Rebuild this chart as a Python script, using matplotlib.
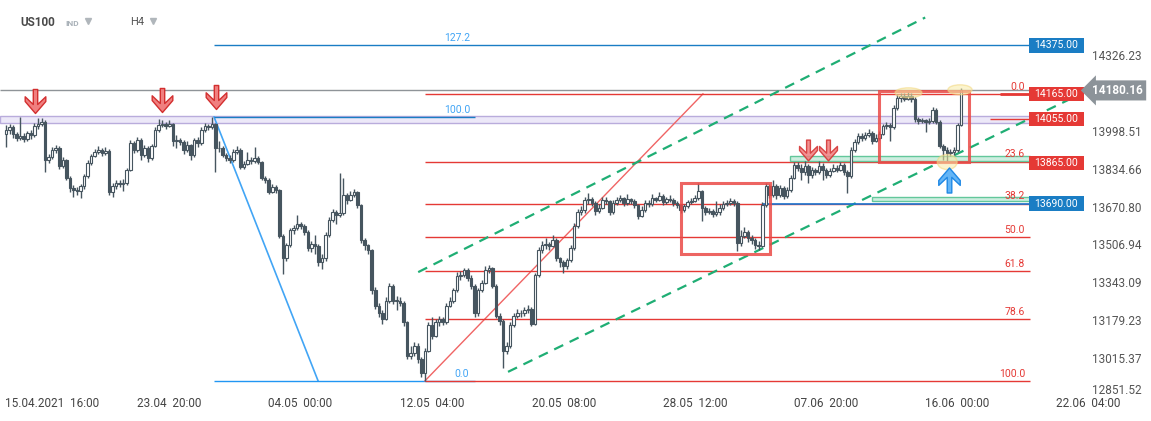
import numpy as np
import matplotlib
matplotlib.use('Agg')
from matplotlib import pyplot as plt
from matplotlib.patches import Rectangle, Ellipse
from matplotlib.path import Path

plt.rcParams['font.family'] = ['Roboto', 'DejaVu Sans']

# US100, H4 candles (15.04.2021 -> 17.06.2021)
first_open = 13990
closes = [
    14009, 14022, 13992, 13974, 13983, 13970, 13996, 13987, 14026, 14035,
    14044, 13879, 13892, 13922, 13931, 13853, 13879, 13800, 13757, 13748,
    13744, 13766, 13809, 13866, 13896, 13913, 13922, 13909, 13918, 13740,
    13766, 13779, 13774, 13779, 13835, 13953, 13922, 13966, 13900, 13931,
    13887, 13940, 14009, 14031, 14035, 14026, 14035, 13961, 13966, 13957,
    13922, 13944, 13900, 13966, 13953, 14009, 14026, 14022, 14035, 13931,
    13931, 13900, 13887, 13879, 13913, 13922, 13848, 13861, 13879, 13874,
    13887, 13870, 13800, 13792, 13740, 13761, 13748, 13548, 13453, 13509,
    13574, 13583, 13600, 13592, 13566, 13496, 13514, 13505, 13435, 13453,
    13553, 13618, 13653, 13640, 13648, 13726, 13705, 13726, 13740, 13683,
    13531, 13509, 13487, 13314, 13248, 13218, 13192, 13270, 13335, 13270,
    13270, 13261, 13175, 13031, 13044, 13075, 13018, 12957, 13053, 13162,
    13118, 13175, 13192, 13175, 13248, 13270, 13314, 13375, 13379, 13401,
    13366, 13335, 13214, 13314, 13348, 13401, 13409, 13335, 13205, 13183,
    13053, 13075, 13162, 13205, 13218, 13214, 13227, 13235, 13170, 13379,
    13487, 13509, 13514, 13505, 13531, 13453, 13435, 13418, 13444, 13496,
    13592, 13653, 13661, 13705, 13709, 13692, 13657, 13670, 13705, 13700,
    13653, 13692, 13705, 13713, 13692, 13709, 13700, 13683, 13635, 13661,
    13692, 13687, 13713, 13705, 13722, 13696, 13709, 13705, 13692, 13683,
    13661, 13679, 13696, 13700, 13713, 13744, 13670, 13653, 13657, 13644,
    13653, 13670, 13687, 13692, 13700, 13692, 13518, 13548, 13566, 13540,
    13531, 13509, 13505, 13683, 13766, 13726, 13766, 13726, 13757, 13722,
    13748, 13800, 13857, 13844, 13826, 13853, 13813, 13835, 13826, 13853,
    13835, 13813, 13831, 13844, 13835, 13857, 13826, 13809, 13922, 13957,
    13983, 13974, 13987, 13996, 13961, 13974, 13992, 14026, 14031, 14022,
    14105, 14148, 14157, 14144, 14157, 14144, 14057, 14048, 14052, 14044,
    14048, 14096, 14044, 13940, 13922, 13909, 13913, 13922, 14031, 14180,
]
highs = [
    14030, 14035, 14030, 14000, 14065, 13995, 14005, 14010, 14040, 14060,
    14062, 14050, 13905, 13935, 13945, 13940, 13890, 13885, 13810, 13770,
    13760, 13775, 13820, 13880, 13905, 13925, 13940, 13930, 13935, 13925,
    13780, 13790, 13790, 13795, 13845, 13965, 13960, 13980, 13975, 13945,
    13940, 13950, 14020, 14055, 14050, 14045, 14052, 14040, 13985, 13975,
    13965, 13960, 13950, 13975, 13980, 14020, 14040, 14035, 14065, 14040,
    13960, 13940, 13910, 13900, 13925, 13940, 13930, 13875, 13915, 13890,
    13935, 13895, 13875, 13810, 13800, 13775, 13770, 13755, 13560, 13520,
    13585, 13595, 13640, 13610, 13600, 13575, 13530, 13555, 13515, 13470,
    13565, 13630, 13665, 13660, 13822, 13800, 13735, 13745, 13755, 13745,
    13690, 13540, 13515, 13495, 13330, 13260, 13230, 13285, 13345, 13340,
    13290, 13285, 13270, 13180, 13075, 13090, 13085, 13025, 13065, 13175,
    13200, 13190, 13205, 13200, 13260, 13285, 13325, 13395, 13400, 13410,
    13410, 13380, 13340, 13325, 13360, 13420, 13425, 13415, 13340, 13215,
    13190, 13090, 13175, 13215, 13235, 13230, 13240, 13250, 13240, 13390,
    13500, 13530, 13540, 13525, 13555, 13540, 13460, 13445, 13455, 13510,
    13605, 13665, 13680, 13720, 13735, 13720, 13700, 13690, 13720, 13720,
    13705, 13705, 13720, 13725, 13720, 13730, 13715, 13710, 13690, 13680,
    13705, 13705, 13730, 13720, 13740, 13730, 13720, 13725, 13715, 13700,
    13690, 13690, 13705, 13715, 13725, 13779, 13750, 13680, 13670, 13665,
    13700, 13690, 13700, 13705, 13712, 13710, 13700, 13575, 13590, 13575,
    13555, 13540, 13530, 13695, 13780, 13775, 13790, 13775, 13770, 13765,
    13760, 13812, 13870, 13870, 13860, 13875, 13860, 13850, 13845, 13875,
    13865, 13845, 13845, 13860, 13855, 13870, 13865, 13835, 13935, 13970,
    13995, 13995, 14000, 14015, 14005, 13990, 14005, 14035, 14045, 14040,
    14115, 14165, 14170, 14168, 14172, 14168, 14150, 14065, 14062, 14058,
    14060, 14110, 14105, 14050, 13950, 13935, 13925, 13935, 14040, 14192,
]
lows = [
    13935, 13990, 13975, 13960, 13965, 13955, 13960, 13970, 13980, 14015,
    14025, 13826, 13865, 13885, 13910, 13840, 13845, 13790, 13740, 13718,
    13725, 13715, 13755, 13800, 13855, 13890, 13905, 13895, 13900, 13725,
    13720, 13755, 13760, 13745, 13770, 13830, 13910, 13915, 13880, 13890,
    13870, 13880, 13935, 14000, 14020, 14015, 14020, 13940, 13930, 13945,
    13905, 13915, 13880, 13890, 13935, 13945, 14000, 14010, 14015, 13826,
    13915, 13890, 13875, 13865, 13870, 13905, 13840, 13840, 13855, 13860,
    13865, 13860, 13790, 13780, 13730, 13735, 13735, 13540, 13387, 13440,
    13500, 13560, 13575, 13580, 13555, 13485, 13480, 13470, 13420, 13405,
    13440, 13545, 13610, 13600, 13630, 13640, 13690, 13700, 13720, 13670,
    13520, 13490, 13470, 13300, 13235, 13200, 13170, 13185, 13260, 13255,
    13230, 13245, 13160, 13015, 13015, 13030, 13000, 12940, 12922, 13045,
    13105, 13110, 13160, 13165, 13170, 13240, 13260, 13305, 13360, 13370,
    13355, 13320, 13200, 13205, 13305, 13340, 13390, 13325, 13195, 13165,
    12979, 13040, 13065, 13155, 13195, 13200, 13205, 13215, 13160, 13165,
    13370, 13475, 13495, 13490, 13500, 13440, 13415, 13390, 13405, 13435,
    13490, 13585, 13640, 13650, 13690, 13680, 13640, 13650, 13665, 13690,
    13640, 13645, 13685, 13695, 13680, 13685, 13690, 13670, 13625, 13630,
    13655, 13675, 13680, 13695, 13700, 13685, 13690, 13695, 13680, 13670,
    13650, 13655, 13670, 13690, 13695, 13705, 13615, 13640, 13645, 13630,
    13635, 13640, 13660, 13680, 13685, 13680, 13483, 13505, 13540, 13525,
    13515, 13495, 13490, 13500, 13675, 13715, 13720, 13710, 13720, 13710,
    13715, 13740, 13795, 13830, 13790, 13815, 13780, 13800, 13815, 13820,
    13790, 13800, 13805, 13825, 13825, 13830, 13815, 13735, 13800, 13915,
    13950, 13960, 13965, 13980, 13950, 13955, 13965, 13985, 14015, 13960,
    14015, 14095, 14130, 14135, 14138, 14130, 14045, 14035, 14040, 14000,
    14035, 14040, 14035, 13930, 13880, 13875, 13895, 13900, 13915, 14025,
]

# drawing tools levels
fib_low, fib_high = 12922, 14165          # red retracement
fib_levels = [0.0, 23.6, 38.2, 50.0, 61.8, 78.6, 100.0]
blue_low, blue_high = 12922, 14065        # blue retracement
last_price = 14180.16
zone_lo, zone_hi = 14040, 14070
tag_prices = [14375.00, 14165.00, 14055.00, 13865.00, 13690.00]
tag_colors = ['#1a7dc4', '#e53935', '#e53935', '#e53935', '#1a7dc4']
y_ticks = [14326.23, 14162.37, 13998.51, 13834.66, 13670.80,
           13506.94, 13343.09, 13179.23, 13015.37, 12851.52]
x_labels = ['15.04.2021  16:00', '23.04  20:00', '04.05  00:00', '12.05  04:00',
            '20.05  08:00', '28.05  12:00', '07.06  20:00', '16.06  00:00', '22.06  04:00']
x_label_pos = [13.5, 45.9, 82.8, 120.0, 157.2, 194.1, 231.0, 267.9, 304.8]

opens = [first_open] + closes[:-1]
n = len(closes)
idx = np.arange(n)
o = np.array(opens, float); c = np.array(closes, float)
h = np.array(highs, float); l = np.array(lows, float)

fig = plt.figure(figsize=(11.51, 4.21), dpi=100)
ax = fig.add_axes([0, 0, 1, 1])
ax.set_xlim(-1.69, 322.5)
ax.set_ylim(12748.1, 14571.85)
ax.axis('off')

CANDLE = '#46555f'
RED = '#e53935'
BLUE = '#1a7dc4'
LBLUE = '#42a5f5'
GREEN = '#1fae74'
right_end = 288.5

# purple resistance zone and last price line
ax.add_patch(Rectangle((-1.69, zone_lo), right_end + 1.69, zone_hi - zone_lo,
                       fc='#ece8f8', ec='#b9acdc', lw=1, zorder=1))
ax.hlines(last_price, -1.69, right_end, color='#8f9498', lw=1, zorder=2)

# blue fibo
ax.plot([58.6, 87.9], [blue_high, blue_low], color=LBLUE, lw=1.2, zorder=2)
blue_127 = blue_low + 1.272 * (blue_high - blue_low)
ax.hlines(blue_127, 58.6, right_end, color=BLUE, lw=1, zorder=2)
ax.hlines(blue_high, 58.6, 132.1, color=BLUE, lw=1, zorder=2)
ax.hlines(blue_low, 58.6, 132.1, color='#2196f3', lw=1, zorder=2)
ax.text(127.0, blue_127 + 8, '127.2', color=LBLUE, fontsize=7.5, ha='center', va='bottom')
ax.text(127.0, blue_high + 8, '100.0', color=LBLUE, fontsize=7.5, ha='center', va='bottom')
ax.text(128.2, blue_low + 10, '0.0', color=LBLUE, fontsize=7.5, ha='center', va='bottom')

# red fibo
ax.plot([118.0, 196.3], [fib_low, fib_high], color='#f06464', lw=1, zorder=2)
for lv in fib_levels:
    p = fib_high - lv / 100 * (fib_high - fib_low)
    ax.hlines(p, 118.0, right_end, color=RED, lw=1, zorder=2)
    ax.text(287.0, p + 10, f'{lv:.1f}', color=RED, fontsize=7.5, ha='right', va='bottom')
ax.hlines(14055, 277.2, right_end, color=RED, lw=1, zorder=2)
ax.hlines(fib_high, 280.0, right_end, color=RED, lw=2, zorder=2)

# channel
ax.plot([116.1, 258.9], [13393, 14496], color=GREEN, lw=1.6, dashes=(4.5, 3.2), zorder=2)
ax.plot([141.4, 299.2], [12961, 14139], color=GREEN, lw=1.6, dashes=(4.5, 3.2), zorder=2)

# support bands
ax.add_patch(Rectangle((220.8, 13874), right_end - 220.8, 22,
                       fc='#cdeee0', ec='#63c79b', lw=1, zorder=2))
ax.add_patch(Rectangle((243.9, 13700), right_end - 243.9, 18,
                       fc='#cdeee0', ec='#63c79b', lw=1, zorder=2))
ax.hlines(13690, 213.2, right_end, color='#1976d2', lw=1.2, zorder=2)

# candles
up = c >= o
ax.vlines(idx, l, h, color=CANDLE, lw=1, zorder=3)
ax.bar(idx, np.maximum(np.abs(c - o), 1.5), bottom=np.minimum(o, c), width=0.72,
       color=np.where(up, 'white', CANDLE), edgecolor=CANDLE, linewidth=0.8, zorder=4)

# boxes
for x0, x1, y0, y1 in [(190.1, 215.2, 13471, 13779), (245.9, 271.3, 13870, 14178)]:
    ax.add_patch(Rectangle((x0, y0), x1 - x0, y1 - y0, fill=False,
                           ec='#ea4a47', lw=2.2, alpha=0.85, zorder=5))

# ellipses
for cx, cy, w, hh in [(254.2, 14170, 7.6, 43), (268.7, 14183, 6.8, 43), (265.1, 13870, 5.6, 65)]:
    ax.add_patch(Ellipse((cx, cy), w, hh, fc='#f8eba6', ec='#f2d67c', lw=1, alpha=0.55, zorder=5))

# arrows
dn = [(-2.2, 12), (2.2, 12), (2.2, -3), (10.3, 4.7), (10.3, 0), (0, -12),
      (-10.3, 0), (-10.3, 4.7), (-2.2, -3), (-2.2, 12)]
down_arrow = Path(dn, closed=True)
up_arrow = Path([(x, -y) for x, y in dn], closed=True)
ax.plot([8.2, 43.9, 59.2], [14135, 14139, 14150], marker=down_arrow, ls='none', ms=17.3,
        mfc='#f07f7f', mec='#d32f2f', mew=1, zorder=6)
ax.plot([225.9, 231.5], [13922, 13922], marker=down_arrow, ls='none', ms=15,
        mfc='#f07f7f', mec='#d32f2f', mew=1, alpha=0.85, zorder=6)
ax.plot([265.6], [13792], marker=up_arrow, ls='none', ms=18,
        mfc='#64b5f6', mec='#1e88e5', mew=1, zorder=6)

# price axis
for t in y_ticks:
    va = 'bottom' if t == y_ticks[-1] else 'center'
    ax.text(305.9, t, f'{t:.2f}', color='#555555', fontsize=8.5, ha='left', va=va, zorder=1)
for p, col in zip(tag_prices, tag_colors):
    ax.add_patch(Rectangle((288.0, p - 31), 15.5, 62, fc=col, ec='none', zorder=7))
    ax.text(295.75, p, f'{p:.2f}', color='white', fontsize=7.5, ha='center', va='center', zorder=8)
ax.text(313.0, last_price, f'{last_price:.2f}', color='white', fontsize=8.5, fontweight='bold',
        ha='center', va='center', zorder=8,
        bbox=dict(boxstyle='larrow,pad=0.3', fc='#8c9399', ec='none'))

# time axis
for i, (lab, xp) in enumerate(zip(x_labels, x_label_pos)):
    if i == 0:
        ax.text(-0.3, 12826, lab, color='#444444', fontsize=8.5, ha='left', va='center')
    else:
        ax.text(xp, 12826, lab, color='#444444', fontsize=8.5, ha='center', va='center')

# header
fig.text(20 / 1151, 1 - 22 / 421, 'US100', color='#4a4a4a', fontsize=8.5, fontweight='bold', va='center')
fig.text(65 / 1151, 1 - 23 / 421, 'IND', color='#a9b1b8', fontsize=6, fontweight='bold', va='center')
fig.text(130 / 1151, 1 - 22 / 421, 'H4', color='#555555', fontsize=8, va='center')
ax.plot([23.1, 41.4], [14480, 14480], marker='v', ls='none', ms=4.5, color='#b0b6bb')

fig.savefig('out.png', dpi=100)
